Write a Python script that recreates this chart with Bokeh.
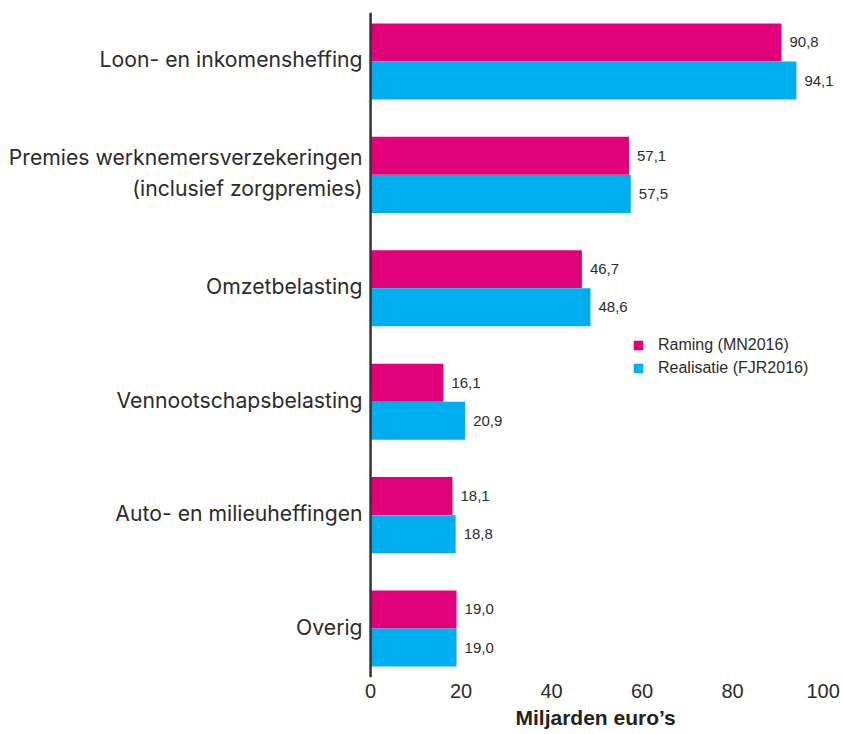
from bokeh.plotting import figure
from bokeh.models import ColumnDataSource, Range1d, Span, Legend, LegendItem, FixedTicker, Title
from bokeh.embed import file_html
from bokeh.resources import INLINE
from bokeh.core.properties import value

categories = [
    "Loon- en inkomensheffing",
    "Premies werknemersverzekeringen\n(inclusief zorgpremies)",
    "Omzetbelasting",
    "Vennootschapsbelasting",
    "Auto- en milieuheffingen",
    "Overig",
]
raming = [90.8, 57.1, 46.7, 16.1, 18.1, 19.0]
realisatie = [94.1, 57.5, 48.6, 20.9, 18.8, 19.0]
x_ticks = [0, 20, 40, 60, 80, 100]
series_names = ["Raming (MN2016)", "Realisatie (FJR2016)"]
axis_title = "Miljarden euro\u2019s"

MAG = "#E2007A"
CYAN = "#00ADEE"
TXT = "#2b2b2b"
FONT = "Liberation Sans"
CAT_FONT = "Inter"

n = len(categories)
pos = [n - 1 - i for i in range(n)]
off = 0.168
bh = 0.335


def fmt(v):
    return f"{v:.1f}".replace(".", ",")


src_r = ColumnDataSource(dict(y=[q + off for q in pos], x=raming, lab=[fmt(v) for v in raming]))
src_b = ColumnDataSource(dict(y=[q - off for q in pos], x=realisatie, lab=[fmt(v) for v in realisatie]))
src_c = ColumnDataSource(dict(y=pos, x=[0] * n, lab=categories))

p = figure(
    width=843, height=734,
    x_range=Range1d(-80, 104.5),
    y_range=Range1d(-0.432, n - 1 + 0.432),
    output_backend="svg", toolbar_location=None,
    y_axis_location=None,
    min_border_left=8, min_border_right=0, min_border_top=12, min_border_bottom=57,
)
p.outline_line_color = None
p.grid.visible = False
p.background_fill_color = "white"

r1 = p.hbar(y="y", right="x", left=0, height=bh, source=src_r, fill_color=MAG, line_color=None)
r2 = p.hbar(y="y", right="x", left=0, height=bh, source=src_b, fill_color=CYAN, line_color=None)

for s in (src_r, src_b):
    p.text(x="x", y="y", text="lab", source=s, x_offset=8, text_baseline="middle",
           text_font=value(FONT), text_font_size="15px", text_color=TXT)

p.text(x="x", y="y", text="lab", source=src_c, x_offset=-8, y_offset=-2, text_align="right",
       text_baseline="middle", text_font=value(CAT_FONT), text_font_size="21.2px",
       text_color=TXT, text_line_height=1.2)

p.add_layout(Span(location=0, dimension="height", line_color="#333333", line_width=2.5))

xa = p.xaxis[0]
xa.ticker = FixedTicker(ticks=x_ticks)
xa.axis_line_color = None
xa.major_tick_line_color = None
xa.minor_tick_line_color = None
xa.major_tick_out = 0
xa.major_tick_in = 0
xa.major_label_standoff = 6
xa.major_label_text_font = FONT
xa.major_label_text_font_size = "20px"
xa.major_label_text_color = TXT

p.add_layout(Title(text=axis_title, align="left", offset=507, standoff=7,
                   text_font=FONT, text_font_size="21px", text_font_style="bold",
                   text_color="#222222"), "below")

legend = Legend(
    items=[LegendItem(label=series_names[0], renderers=[r1]),
           LegendItem(label=series_names[1], renderers=[r2])],
    location=(624, 300),
    padding=0, margin=0, spacing=5,
    glyph_width=12, glyph_height=12, label_standoff=14,
    label_text_font=FONT, label_text_font_size="16px", label_text_color=TXT,
    border_line_color=None, background_fill_alpha=0,
)
p.add_layout(legend)

open("out.html", "w").write(file_html(p, INLINE))
